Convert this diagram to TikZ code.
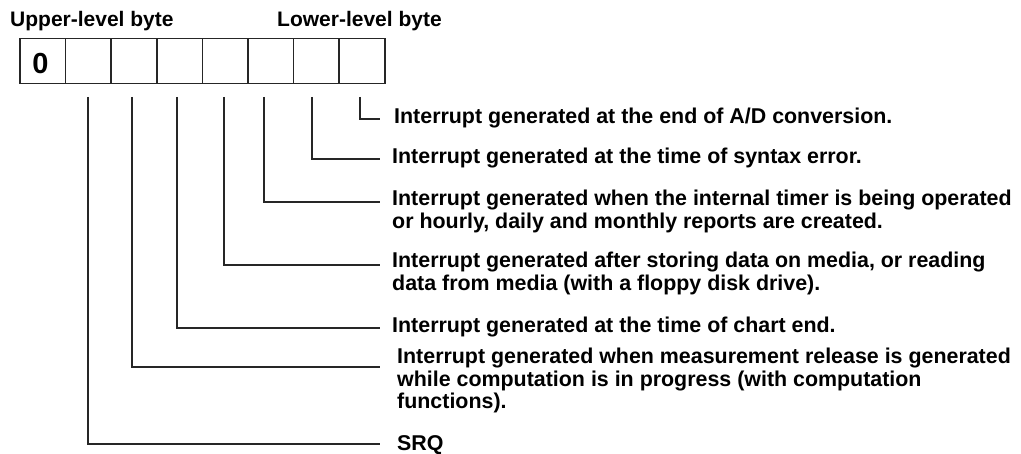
\documentclass[tikz,border=0pt]{standalone}
\usepackage{fontspec}
\setmainfont{Liberation Sans}
\begin{document}
\begin{tikzpicture}[x=1pt,y=-1pt,
  cell/.style={draw=black!85, line width=1.5pt, minimum width=45.6pt, minimum height=45pt, inner sep=0pt, outer sep=0pt},
  lbl/.style={anchor=base west, inner sep=0pt, align=left, font=\fontsize{21.4}{22.5}\selectfont\bfseries},
  hdr/.style={anchor=base west, inner sep=0pt, font=\fontsize{21}{22.5}\selectfont\bfseries},
  wire/.style={draw=black!85, line width=1.3pt}]
\useasboundingbox (0,0) rectangle (1021,454);
% header labels
\node[hdr] (upper) at (10,26.5) {Upper-level byte};
\node[hdr] (lower) at (277,26.5) {Lower-level byte};
% register cells
\foreach \i in {0,...,7} {
  \node[cell] (c\i) at ({20+45.6*\i+22.8},61) {};
}
\node[anchor=base, inner sep=0pt, font=\fontsize{29}{30}\selectfont\bfseries] (zero) at (40.5,74) {0};
% connector start points
\coordinate (t1) at (88,97);
\coordinate (t2) at (132,97);
\coordinate (t3) at (177,97);
\coordinate (t4) at (224,97);
\coordinate (t5) at (264,97);
\coordinate (t6) at (312,97);
\coordinate (t7) at (360,97);
% connector end points
\coordinate (e7) at (380,119);
\coordinate (e6) at (380,159);
\coordinate (e5) at (380,202);
\coordinate (e4) at (380,265);
\coordinate (e3) at (380,328);
\coordinate (e2) at (380,367);
\coordinate (e1) at (380,444);
% texts (anchor on the baseline of the last line)
\node[lbl] (l7) at (394,124) {Interrupt generated at the end of A/D conversion.};
\node[lbl] (l6) at (392,164) {Interrupt generated at the time of syntax error.};
\node[lbl] (l5) at (392,228.5) {Interrupt generated when the internal timer is being operated\\or hourly, daily and monthly reports are created.};
\node[lbl] (l4) at (392,290.5) {Interrupt generated after storing data on media, or reading\\data from media (with a floppy disk drive).};
\node[lbl] (l3) at (392,333) {Interrupt generated at the time of chart end.};
\node[lbl] (l2) at (397,409) {Interrupt generated when measurement release is generated\\while computation is in progress (with computation\\functions).};
\node[lbl] (l1) at (397,451) {SRQ};
% connectors
\foreach \k in {1,...,7} {
  \draw[wire] (t\k) |- (e\k);
}
\end{tikzpicture}
\end{document}
